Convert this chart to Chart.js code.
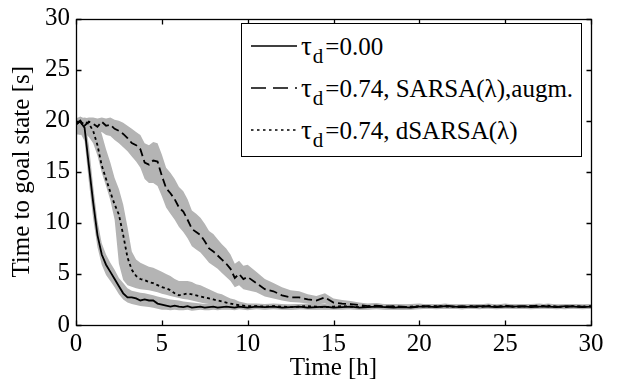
<!DOCTYPE html>
<html>
<head>
<meta charset="utf-8">
<script src="https://cdn.jsdelivr.net/npm/chart.js@4.4.0/dist/chart.umd.min.js"></script>
<style>
html,body{margin:0;padding:0;background:#fff;font-family:'Liberation Serif','Times New Roman',serif;}
#wrap{position:relative;width:618px;height:386px;overflow:hidden;}
#c{position:absolute;left:0;top:0;}
#legend{position:absolute;left:241px;top:23px;width:341px;height:134px;border:1px solid #000;box-sizing:border-box;background:#fff;font-family:'Liberation Serif','Times New Roman',serif;font-size:25px;color:#000;}
.row{position:absolute;left:0;width:100%;height:30px;line-height:30px;white-space:nowrap;}
.row svg{position:absolute;left:9px;top:13px;}
.row .t{position:absolute;left:59px;top:0;}
.row .tau{font-size:27px;margin-right:1px;}
.row sub{font-size:21px;vertical-align:-8px;line-height:0;margin-right:2px;}
#pre{position:absolute;left:-1000px;top:0;font-family:'Liberation Serif';font-size:25px;}
</style>
</head>
<body>
<div id="pre">Time [h] 0123456789 τλ</div>
<div id="wrap">
<canvas id="c" width="618" height="386"></canvas>
<div id="legend">
  <div class="row" style="top:7px"><svg width="46" height="4"><line x1="0" y1="2" x2="46" y2="2" stroke="#000" stroke-width="1.6"/></svg><span class="t"><span class="tau">τ</span><sub>d</sub>=0.00</span></div>
  <div class="row" style="top:49px"><svg width="46" height="4"><line x1="0" y1="2" x2="46" y2="2" stroke="#000" stroke-width="1.6" stroke-dasharray="15,7"/></svg><span class="t"><span class="tau">τ</span><sub>d</sub>=0.74, SARSA(λ),augm.</span></div>
  <div class="row" style="top:91px"><svg width="46" height="4"><line x1="0" y1="2" x2="46" y2="2" stroke="#000" stroke-width="1.6" stroke-dasharray="2.5,3.5"/></svg><span class="t"><span class="tau">τ</span><sub>d</sub>=0.74, dSARSA(λ)</span></div>
</div>
</div>
<script>
// ---- data ----
const T = [0,0.25,0.5,0.75,1,1.25,1.5,1.75,2,2.25,2.5,2.75,3,3.25,3.5,3.75,4,4.25,4.5,4.75,5,5.25,5.5,5.75,6,6.25,6.5,6.75,7,7.25,7.5,7.75,8,8.25,8.5,8.75,9,9.25,9.5,9.75,10,
  10.5,11,11.5,12,12.5,13,13.5,14,14.5,15,15.5,16,16.5,17,17.5,18,18.5,19,19.5,20,
  20.5,21,21.5,22,22.5,23,23.5,24,24.5,25,25.5,26,26.5,27,27.5,28,28.5,29,29.5,30];

// tau_d = 0.00 (solid)
const solidMean = [19.7,19.9,19.3,15.6,12.0,8.8,6.9,5.9,5.2,4.5,3.8,3.1,2.7,2.7,2.6,2.4,2.5,2.4,2.4,2.1,2.0,1.9,1.8,1.9,1.8,1.75,1.85,1.7,1.75,1.8,1.7,1.75,1.8,1.7,1.75,1.8,1.75,1.7,1.8,1.75,1.7,
  1.8,1.75,1.8,1.7,1.75,1.8,1.7,1.75,1.8,1.7,1.75,1.8,1.7,1.75,1.8,1.75,1.7,1.75,1.7,1.8,
  1.8,1.75,1.85,1.8,1.75,1.8,1.85,1.8,1.75,1.8,1.8,1.85,1.75,1.8,1.8,1.75,1.85,1.8,1.75,1.8];
const solidLo = [18.6,18.8,18.0,14.0,10.4,7.6,5.9,4.9,4.3,3.7,3.0,2.5,2.2,2.05,1.95,1.85,1.8,1.75,1.7,1.6,1.5,1.5,1.45,1.5,1.45,1.45,1.5,1.4,1.45,1.5,1.45,1.45,1.5,1.45,1.5,1.5,1.5,1.45,1.55,1.5,1.45,
  1.55,1.5,1.55,1.5,1.5,1.55,1.5,1.5,1.55,1.5,1.5,1.55,1.5,1.5,1.55,1.5,1.5,1.5,1.5,1.55,
  1.6,1.55,1.6,1.6,1.55,1.6,1.6,1.6,1.55,1.6,1.6,1.6,1.55,1.6,1.6,1.55,1.6,1.6,1.55,1.6];
const solidHi = [20.2,20.3,20.2,17.6,13.6,10.2,8.0,6.9,6.1,5.4,4.6,4.1,3.6,3.35,3.25,3.15,3.1,3.0,2.9,2.8,2.7,2.6,2.5,2.45,2.4,2.3,2.25,2.2,2.15,2.1,2.05,2.05,2.05,2.0,2.05,2.1,2.05,2.0,2.1,2.05,2.0,
  2.05,2.0,2.05,1.95,2.0,2.05,1.95,2.0,2.05,1.95,2.0,2.05,1.95,2.0,2.05,2.0,1.95,2.0,1.95,2.05,
  2.0,1.95,2.05,2.0,1.95,2.0,2.05,2.0,1.95,2.0,2.0,2.05,1.95,2.0,2.0,1.95,2.05,2.0,1.95,2.0];

// tau_d = 0.74, SARSA(lambda), augm. (dashed)
const augMean = [19.6,20.0,19.5,19.9,19.7,19.4,19.9,19.5,19.6,19.2,19.0,18.7,18.3,17.8,17.6,17.2,15.9,15.7,16.1,16.0,14.6,13.4,12.9,12.3,11.5,11.1,10.3,9.4,9.1,8.8,8.2,7.5,7.2,6.8,6.4,6.0,5.5,4.6,5.0,4.5,4.7,
  4.1,3.5,3.3,2.9,2.7,2.7,2.5,2.4,2.7,2.2,2.1,2.05,1.95,1.85,1.9,1.8,1.85,1.8,1.75,1.8,
  1.85,1.8,1.9,1.8,1.85,1.8,1.75,1.85,1.8,1.9,1.8,1.8,1.85,1.9,1.8,1.8,1.75,1.85,1.8,1.85];
const augLo = [19.0,19.1,18.9,19.0,18.9,18.6,18.9,18.6,18.5,18.1,17.8,17.4,17.0,16.5,16.0,15.4,14.3,13.9,13.9,13.6,12.6,11.5,10.9,10.3,9.6,9.1,8.5,7.7,7.4,7.1,6.6,6.1,5.8,5.5,5.1,4.7,4.3,3.7,3.9,3.5,3.4,
  3.2,2.8,2.6,2.4,2.25,2.2,2.1,2.0,2.1,1.85,1.8,1.75,1.7,1.65,1.65,1.6,1.65,1.6,1.55,1.6,
  1.65,1.6,1.7,1.6,1.65,1.6,1.55,1.65,1.6,1.7,1.6,1.6,1.65,1.7,1.6,1.6,1.55,1.65,1.6,1.65];
const augHi = [20.2,20.4,20.2,20.3,20.3,20.2,20.3,20.2,20.3,20.1,20.0,19.8,19.5,19.2,18.9,18.6,17.8,17.6,17.9,17.8,16.7,15.4,14.9,14.3,13.5,13.1,12.3,11.2,10.9,10.5,9.9,9.2,8.9,8.4,7.9,7.5,6.9,6.0,6.3,5.8,5.9,
  5.2,4.5,4.1,3.7,3.4,3.3,3.0,2.85,3.1,2.6,2.45,2.35,2.2,2.1,2.15,2.0,2.05,2.0,1.95,2.0,
  2.05,2.0,2.1,2.0,2.05,2.0,1.95,2.05,2.0,2.1,2.0,2.0,2.05,2.1,2.0,2.0,1.95,2.05,2.0,2.05];

// tau_d = 0.74, dSARSA(lambda) (dotted)
const dMean = [19.9,19.6,19.9,19.7,19.0,17.6,15.6,14.3,13.0,11.8,10.8,8.8,6.6,5.4,4.8,4.5,4.4,4.2,4.1,3.9,3.7,3.6,3.4,3.1,2.9,3.0,3.1,3.0,2.9,2.8,2.7,2.6,2.5,2.4,2.3,2.2,2.1,2.0,1.95,1.9,1.85,
  1.85,1.8,1.85,1.8,1.75,1.8,1.85,1.8,1.75,1.8,1.85,1.8,1.75,1.8,1.85,1.8,1.8,1.75,1.8,1.85,
  1.8,1.85,1.8,1.8,1.75,1.85,1.8,1.9,1.8,1.85,1.8,1.8,1.85,1.8,1.9,1.8,1.8,1.85,1.8,1.8];
const dLo = [18.7,18.6,18.8,18.4,17.8,16.6,14.9,13.6,12.2,10.3,6.0,4.4,3.9,3.75,3.6,3.5,3.45,3.4,3.3,3.2,3.05,2.95,2.85,2.75,2.65,2.55,2.5,2.4,2.3,2.2,2.1,2.05,2.0,1.95,1.9,1.85,1.8,1.7,1.7,1.6,1.6,
  1.6,1.55,1.6,1.55,1.5,1.55,1.6,1.55,1.5,1.55,1.6,1.55,1.5,1.55,1.6,1.55,1.55,1.5,1.55,1.6,
  1.6,1.65,1.6,1.6,1.55,1.65,1.6,1.7,1.6,1.65,1.6,1.6,1.65,1.6,1.7,1.6,1.6,1.65,1.6,1.6];
const dHi = [20.3,20.2,20.3,20.2,20.1,19.8,18.7,17.2,15.9,14.4,13.3,11.8,9.6,7.2,6.4,6.1,5.9,5.7,5.6,5.4,5.2,5.0,4.8,4.5,4.3,4.3,4.3,4.2,4.0,3.9,3.7,3.5,3.3,3.1,3.0,2.8,2.6,2.5,2.3,2.2,2.1,
  2.1,2.05,2.1,2.05,2.0,2.05,2.1,2.05,2.0,2.05,2.1,2.05,2.0,2.05,2.1,2.05,2.05,2.0,2.05,2.1,
  2.0,2.05,2.0,2.0,1.95,2.05,2.0,2.1,2.0,2.05,2.0,2.0,2.05,2.0,2.1,2.0,2.0,2.05,2.0,2.0];

const xTicks = [0,5,10,15,20,25,30];
const yTicks = [0,5,10,15,20,25,30];

// ---- chart ----
const FONT = "'Liberation Serif', 'Times New Roman', serif";
const GREY = '#b4b4b4';
const pts = arr => T.map((t,i)=>({x:t,y:arr[i]}));
const line = (arr, dash) => ({data:pts(arr), borderColor:'#000', borderWidth:1.8, borderDash:dash, pointRadius:0, fill:false, tension:0});
const bandHi = arr => ({data:pts(arr), borderColor:'rgba(0,0,0,0)', borderWidth:0, backgroundColor:GREY, pointRadius:0, fill:'+1', tension:0});
const bandLo = arr => ({data:pts(arr), borderColor:'rgba(0,0,0,0)', borderWidth:0, pointRadius:0, fill:false, tension:0});

const frame = {
  id:'frame',
  afterDraw(chart){
    const {ctx, chartArea:a, scales:{x,y}} = chart;
    ctx.save();
    ctx.strokeStyle='#000';
    ctx.lineWidth=1.3;
    const L=Math.round(a.left)+0.5, R=Math.round(a.right)+0.5, Tp=Math.round(a.top)+0.5, B=Math.round(a.bottom)+0.5;
    ctx.strokeRect(L, Tp, R-L, B-Tp);
    ctx.beginPath();
    xTicks.forEach(v=>{const p=Math.round(x.getPixelForValue(v))+0.5; ctx.moveTo(p,B); ctx.lineTo(p,B-5); ctx.moveTo(p,Tp); ctx.lineTo(p,Tp+5);});
    yTicks.forEach(v=>{const p=Math.round(y.getPixelForValue(v))+0.5; ctx.moveTo(L,p); ctx.lineTo(L+5,p); ctx.moveTo(R,p); ctx.lineTo(R-5,p);});
    ctx.stroke();
    ctx.restore();
  }
};

const chart = new Chart(document.getElementById('c'), {
  type:'line',
  data:{datasets:[
    line(solidMean, []),
    line(augMean, [8,4]),
    line(dMean, [3,3]),
    bandHi(solidHi), bandLo(solidLo),
    bandHi(augHi), bandLo(augLo),
    bandHi(dHi), bandLo(dLo)
  ]},
  options:{
    responsive:false, animation:false, devicePixelRatio:1,
    layout:{padding:{top:14,right:27,left:0,bottom:0}},
    plugins:{legend:{display:false}, tooltip:{enabled:false}, filler:{drawTime:'beforeDatasetsDraw'}},
    scales:{
      x:{type:'linear', min:0, max:30,
        ticks:{stepSize:5, autoSkip:false, maxRotation:0, padding:7, color:'#000', font:{family:FONT,size:25,lineHeight:1}},
        grid:{display:false, drawTicks:false}, border:{display:false},
        title:{display:true, text:'Time [h]', color:'#000', font:{family:FONT,size:25,lineHeight:1.2}, padding:{top:0,bottom:3}},
        afterFit(s){ s.height = 61; }
      },
      y:{type:'linear', min:0, max:30,
        ticks:{stepSize:5, padding:6, color:'#000', font:{family:FONT,size:25,lineHeight:1}},
        grid:{display:false, drawTicks:false}, border:{display:false},
        title:{display:true, text:'Time to goal state [s]', color:'#000', font:{family:FONT,size:25,lineHeight:1.2}, padding:{top:7,bottom:0}},
        afterFit(s){ s.width = 76; }
      }
    }
  },
  plugins:[frame]
});

// redraw once the serif font is surely available
if (document.fonts && document.fonts.load) {
  document.fonts.load("25px 'Liberation Serif'").then(()=>chart.update('none')).catch(()=>{});
  document.fonts.ready.then(()=>chart.update('none'));
}
</script>
</body>
</html>
